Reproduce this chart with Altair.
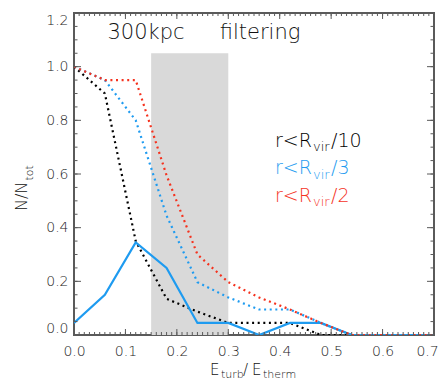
import altair as alt
import pandas as pd

# ---- data ----
x_vals = [0.0, 0.06, 0.12, 0.18, 0.24, 0.30, 0.36, 0.42, 0.48, 0.54, 0.60, 0.66, 0.72]
black_dot = [1.0, 0.90, 0.35, 0.135, 0.087, 0.045, 0.045, 0.045, 0.0, 0.0, 0.0, 0.0, 0.0]
blue_dot = [1.0, 0.95, 0.80, 0.445, 0.197, 0.14, 0.095, 0.095, 0.045, 0.0, 0.0, 0.0, 0.0]
red_dot = [1.0, 0.95, 0.95, 0.595, 0.30, 0.197, 0.14, 0.095, 0.045, 0.0, 0.0, 0.0, 0.0]
blue_solid = [0.045, 0.15, 0.345, 0.25, 0.045, 0.045, 0.0, 0.045, 0.045, 0.0, 0.0, 0.0, 0.0]

band_x = [0.15, 0.30]
band_top = 1.05

x_ticks_major = [0.0, 0.1, 0.2, 0.3, 0.4, 0.5, 0.6, 0.7]
x_ticks_minor = [round(i * 0.01, 2) for i in range(0, 71)]
y_ticks_major = [0.0, 0.2, 0.4, 0.6, 0.8, 1.0, 1.2]
y_ticks_minor = [round(i * 0.05, 2) for i in range(0, 25)]

title_words = ["300kpc", "filtering"]
legend_labels = [("r<R", "vir", "/10"), ("r<R", "vir", "/3"), ("r<R", "vir", "/2")]

BLACK = "#000000"
BLUE = "#1e9bf0"
RED = "#f5321e"
FRAME = "#5a5a5a"
FONT = "DejaVu Sans"
WEIGHT = 200

W, H = 360, 322

xs = alt.Scale(domain=[0, 0.7], nice=False, zero=False)
ys = alt.Scale(domain=[0, 1.2], nice=False, zero=False)

df = pd.DataFrame({"x": x_vals, "black": black_dot, "bluedot": blue_dot,
                   "reddot": red_dot, "bluesolid": blue_solid})

band = alt.Chart(pd.DataFrame({"x1": [band_x[0]], "x2": [band_x[1]], "y1": [0.0], "y2": [band_top]})).mark_rect(
    color="#d9d9d9").encode(
    x=alt.X("x1:Q", scale=xs, axis=alt.Axis(
        values=x_ticks_major, format=".1f", title=None, labelFlush=False, labelPadding=9,
        labelOffset={"condition": {"test": "datum.value > 0.65", "value": -7}, "value": 0})),
    x2="x2:Q",
    y=alt.Y("y1:Q", scale=ys, axis=alt.Axis(values=y_ticks_major, format=".1f", title=None,
                                           labelFlush=True, labelPadding=6)),
    y2="y2:Q",
)


def line(col, color, dotted):
    kw = dict(color=color, strokeWidth=2.2, clip=True)
    if dotted:
        kw["strokeDash"] = [2, 3.6]
    return alt.Chart(df).mark_line(**kw).encode(
        x=alt.X("x:Q", scale=xs), y=alt.Y(f"{col}:Q", scale=ys))


def xt(vals, y0, y1):
    return alt.Chart(pd.DataFrame({"v": vals})).mark_rule(color=FRAME, strokeWidth=1).encode(
        x=alt.X("v:Q", scale=xs), y=alt.value(y0), y2=alt.value(y1))


def yt(vals, x0, x1):
    return alt.Chart(pd.DataFrame({"v": vals})).mark_rule(color=FRAME, strokeWidth=1).encode(
        y=alt.Y("v:Q", scale=ys), x=alt.value(x0), x2=alt.value(x1))


ticks = [
    xt(x_ticks_minor, H, H - 3), xt(x_ticks_major, H, H - 6),
    xt(x_ticks_minor, 0, 3), xt(x_ticks_major, 0, 6),
    yt(y_ticks_minor, 0, 3.5), yt(y_ticks_major, 0, 7),
    yt(y_ticks_minor, W, W - 3.5), yt(y_ticks_major, W, W - 7),
]


def txt(s, x, y, size, color="#111111", align="left", angle=0):
    kw = dict(text=s, fontSize=size, font=FONT, fontWeight=WEIGHT, color=color, align=align,
              baseline="alphabetic")
    if angle:
        kw["angle"] = angle
    return alt.Chart(pd.DataFrame({"a": [0]})).mark_text(**kw).encode(
        x=alt.value(x), y=alt.value(y))


texts = [
    txt(title_words[0], 72, 26, 21, align="center"),
    txt(title_words[1], 186, 26, 21, align="center"),
]
leg_colors = [BLACK, BLUE, RED]
leg_base = [133.5, 161, 188.5]
for (a, b, c), col, yb in zip(legend_labels, leg_colors, leg_base):
    texts += [txt(a, 201, yb, 19, col), txt(b, 239, yb + 4.5, 13, col), txt(c, 257, yb, 19, col)]

# x axis title  E_turb / E_therm
texts += [
    txt("E", 136, 361.5, 15), txt("turb", 147, 365, 11),
    txt("/", 169, 361.5, 15), txt("E", 178, 361.5, 15), txt("therm", 189, 365, 11),
]
# y axis title  N / N_tot (rotated)
texts += [
    txt("N/N", -47, 198, 16, angle=270), txt("tot", -41, 167.5, 11, angle=270),
]

chart = alt.layer(
    band,
    line("black", BLACK, True),
    line("bluesolid", BLUE, False),
    line("bluedot", BLUE, True),
    line("reddot", RED, True),
    *ticks,
    *texts,
).properties(
    width=W, height=H,
    autosize=alt.AutoSizeParams(type="none"),
    padding={"left": 66, "top": 5, "right": 4, "bottom": 45},
).configure_view(
    stroke=FRAME, strokeWidth=2
).configure_axis(
    domain=False, ticks=False, tickSize=0, grid=False,
    labelFont=FONT, labelFontSize=14, labelFontWeight=WEIGHT, labelColor="#222222",
)

chart.save("out.html", embed_options={"renderer": "svg", "actions": False})
